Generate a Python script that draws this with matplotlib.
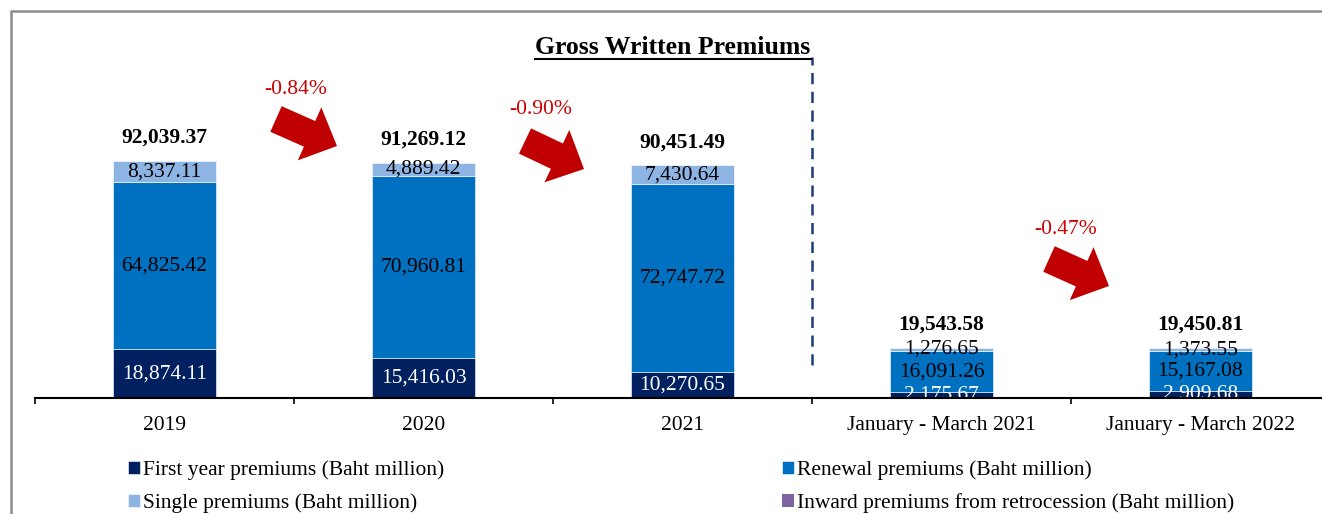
import numpy as np
import matplotlib
matplotlib.use("Agg")
import matplotlib.pyplot as plt
from matplotlib.patches import FancyArrow
from matplotlib.lines import Line2D

plt.rcParams['font.family'] = ['Liberation Serif', 'DejaVu Serif']

# data
periods = ['2019', '2020', '2021', 'January - March 2021', 'January - March 2022']
first_year = [18874.11, 15416.03, 10270.65, 2175.67, 2909.68]
renewal = [64825.42, 70960.81, 72747.72, 16091.26, 15167.08]
single = [8337.11, 4889.42, 7430.64, 1276.65, 1373.55]
inward = [0.0, 0.0, 0.0, 0.0, 0.0]
totals = [92039.37, 91269.12, 90451.49, 19543.58, 19450.81]
# (from index, to index) pairs that get a change arrow
changes = [(0, 1), (1, 2), (3, 4)]

series = [
    ('First year premiums (Baht million)', first_year, '#002060', 'white'),
    ('Renewal premiums (Baht million)', renewal, '#0070C0', 'black'),
    ('Single premiums (Baht million)', single, '#8DB4E2', 'black'),
    ('Inward premiums from retrocession (Baht million)', inward, '#8064A2', 'black'),
]

W, H = 1322, 514
fig = plt.figure(figsize=(W / 100, H / 100), dpi=100)

ax = fig.add_axes([35 / W, 116 / H, 1295 / W, 387 / H])
x = np.arange(len(periods)) + 0.5
bottom = np.zeros(len(periods))
handles = {}
for label, vals, color, tcolor in series:
    vals = np.array(vals)
    bars = ax.bar(x, vals, width=0.4, bottom=bottom, color=color,
                  edgecolor='white', linewidth=0.4 if vals.any() else 0, label=label)
    handles[label] = bars
    for xi, b, v in zip(x, bottom, vals):
        if v > 0:
            ax.text(xi, b + v / 2, f'{v:,.2f}', ha='center', va='center',
                    fontsize=15.5, color=tcolor, zorder=2)
    bottom += vals

for xi, t in zip(x, totals):
    ax.annotate(f'{t:,.2f}', (xi, t), xytext=(0, 16.5), textcoords='offset points',
                ha='center', va='center', fontsize=15.5, fontweight='bold')

ax.set_xlim(0, 5)
ax.set_ylim(0, 150290)
for s in ['top', 'right', 'left']:
    ax.spines[s].set_visible(False)
ax.spines['bottom'].set_linewidth(1.5)
ax.spines['bottom'].set_zorder(5)
ax.set_yticks([])
ax.set_xticks(np.arange(0, 6))
ax.set_xticklabels([])
ax.tick_params(axis='x', which='major', length=4, width=1.2, direction='out')
ax.set_xticks(x, minor=True)
ax.set_xticklabels(periods, minor=True, fontsize=15.5)
ax.tick_params(axis='x', which='minor', length=0, pad=13)
ax.patch.set_visible(False)

# divider between annual and quarterly figures
ax.axvline(3, ymin=0.085, ymax=0.881, color='#1F3C7A', linewidth=1.8,
           linestyle=(0, (4.5, 3)), clip_on=False)

# overlay in pixel coordinates for frame, title and arrows
ov = fig.add_axes([0, 0, 1, 1])
ov.set_xlim(0, W)
ov.set_ylim(H, 0)
ov.axis('off')
ov.patch.set_visible(False)
ov.add_line(Line2D([11, 11, W], [H, 11, 11], color='#8C8C8C', linewidth=1.8))

title = ov.text(673, 47, 'Gross Written Premiums', ha='center', va='center',
                fontsize=18.5, fontweight='bold')
fig.canvas.draw()
bb = title.get_window_extent()
ov.add_line(Line2D([bb.x0, bb.x1], [59, 59], color='black', linewidth=1.5))

arrow_geom = [
    ((276, 119), (337, 146), (296, 89)),
    ((525, 141), (584, 169), (541, 110)),
    ((1049, 259), (1109, 286), (1066, 229)),
]
for (a, b), (tail, tip, lab) in zip(changes, arrow_geom):
    pct = (totals[b] / totals[a] - 1) * 100
    pct = np.trunc(pct * 100) / 100 if abs(pct) < 0.5 and a == 3 else round(pct, 2)
    ov.add_patch(FancyArrow(tail[0], tail[1], tip[0] - tail[0], tip[1] - tail[1],
                            width=28, head_width=58, head_length=30,
                            length_includes_head=True, color='#C00000', linewidth=0))
    ov.text(lab[0], lab[1], f'{pct:.2f}%', ha='center', va='center',
            fontsize=15.5, color='#CC0000')

# legend in two columns
col1 = [handles[series[0][0]], handles[series[2][0]]]
col2 = [handles[series[1][0]], handles[series[3][0]]]
for hs, xpos in [(col1, 128), (col2, 782)]:
    fig.legend(hs, [h.get_label() for h in hs], loc='upper left',
               bbox_to_anchor=(xpos / W, 1 - 460 / H), frameon=False, fontsize=15.5,
               handlelength=0.55, handleheight=0.55, handletextpad=0.15,
               labelspacing=0.62, borderpad=0, borderaxespad=0)

fig.savefig('out.png', dpi=100)
